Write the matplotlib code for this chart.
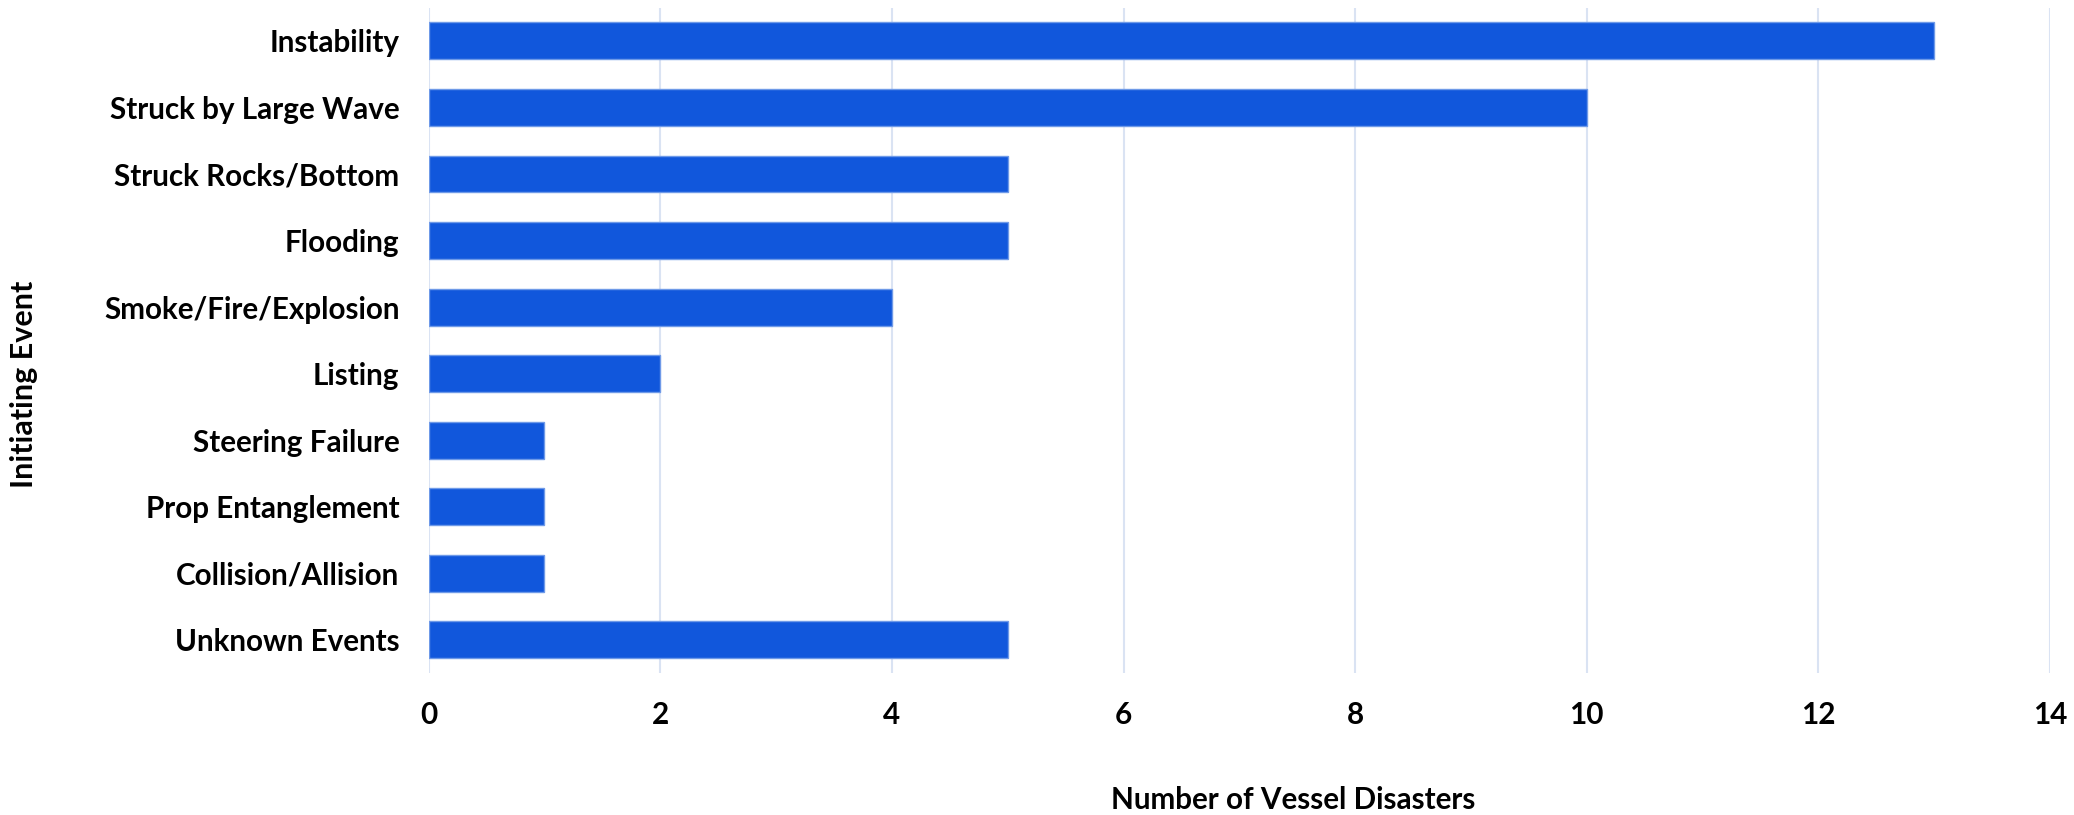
import matplotlib
matplotlib.use('Agg')
import matplotlib.pyplot as plt
import numpy as np

plt.rcParams['font.family'] = ['Lato', 'DejaVu Sans']
plt.rcParams['font.weight'] = 'bold'

events = ['Instability', 'Struck by Large Wave', 'Struck Rocks/Bottom', 'Flooding',
          'Smoke/Fire/Explosion', 'Listing', 'Steering Failure', 'Prop Entanglement',
          'Collision/Allision', 'Unknown Events']
disasters = [13, 10, 5, 5, 4, 2, 1, 1, 1, 5]
x_ticks = [0, 2, 4, 6, 8, 10, 12, 14]

fig = plt.figure(figsize=(20.74, 8.15), dpi=100)
ax = fig.add_axes([0.2067, 0.1742, 0.9884 - 0.2067, 0.9906 - 0.1742])

y = np.arange(len(events))
ax.barh(y, disasters, height=0.556, color='#1157DC', edgecolor='#6F9AE8', linewidth=1.0, zorder=3)

ax.set_ylim(len(events) - 0.5, -0.5)
ax.set_xlim(0, 14)
ax.set_xticks(x_ticks)
ax.set_yticks(y)
ax.set_yticklabels(events)

ax.grid(axis='x', color='#DAE3F3', linewidth=1.5, zorder=0)
ax.grid(axis='y', visible=False)
for s in ax.spines.values():
    s.set_visible(False)

ax.tick_params(axis='both', length=0, labelsize=21.3)
ax.tick_params(axis='y', pad=21)
ax.tick_params(axis='x', pad=20)

ax.set_xlabel('Number of Vessel Disasters', fontsize=21.3, fontweight='bold')
ax.xaxis.set_label_coords(0.533, -0.191)
ax.xaxis.label.set_va('center')
ax.set_ylabel('Initiating Event', fontsize=22, fontweight='bold')
ax.yaxis.set_label_coords(-0.2495, 0.434)
ax.yaxis.label.set_va('center')

fig.savefig('out.png', dpi=100)
